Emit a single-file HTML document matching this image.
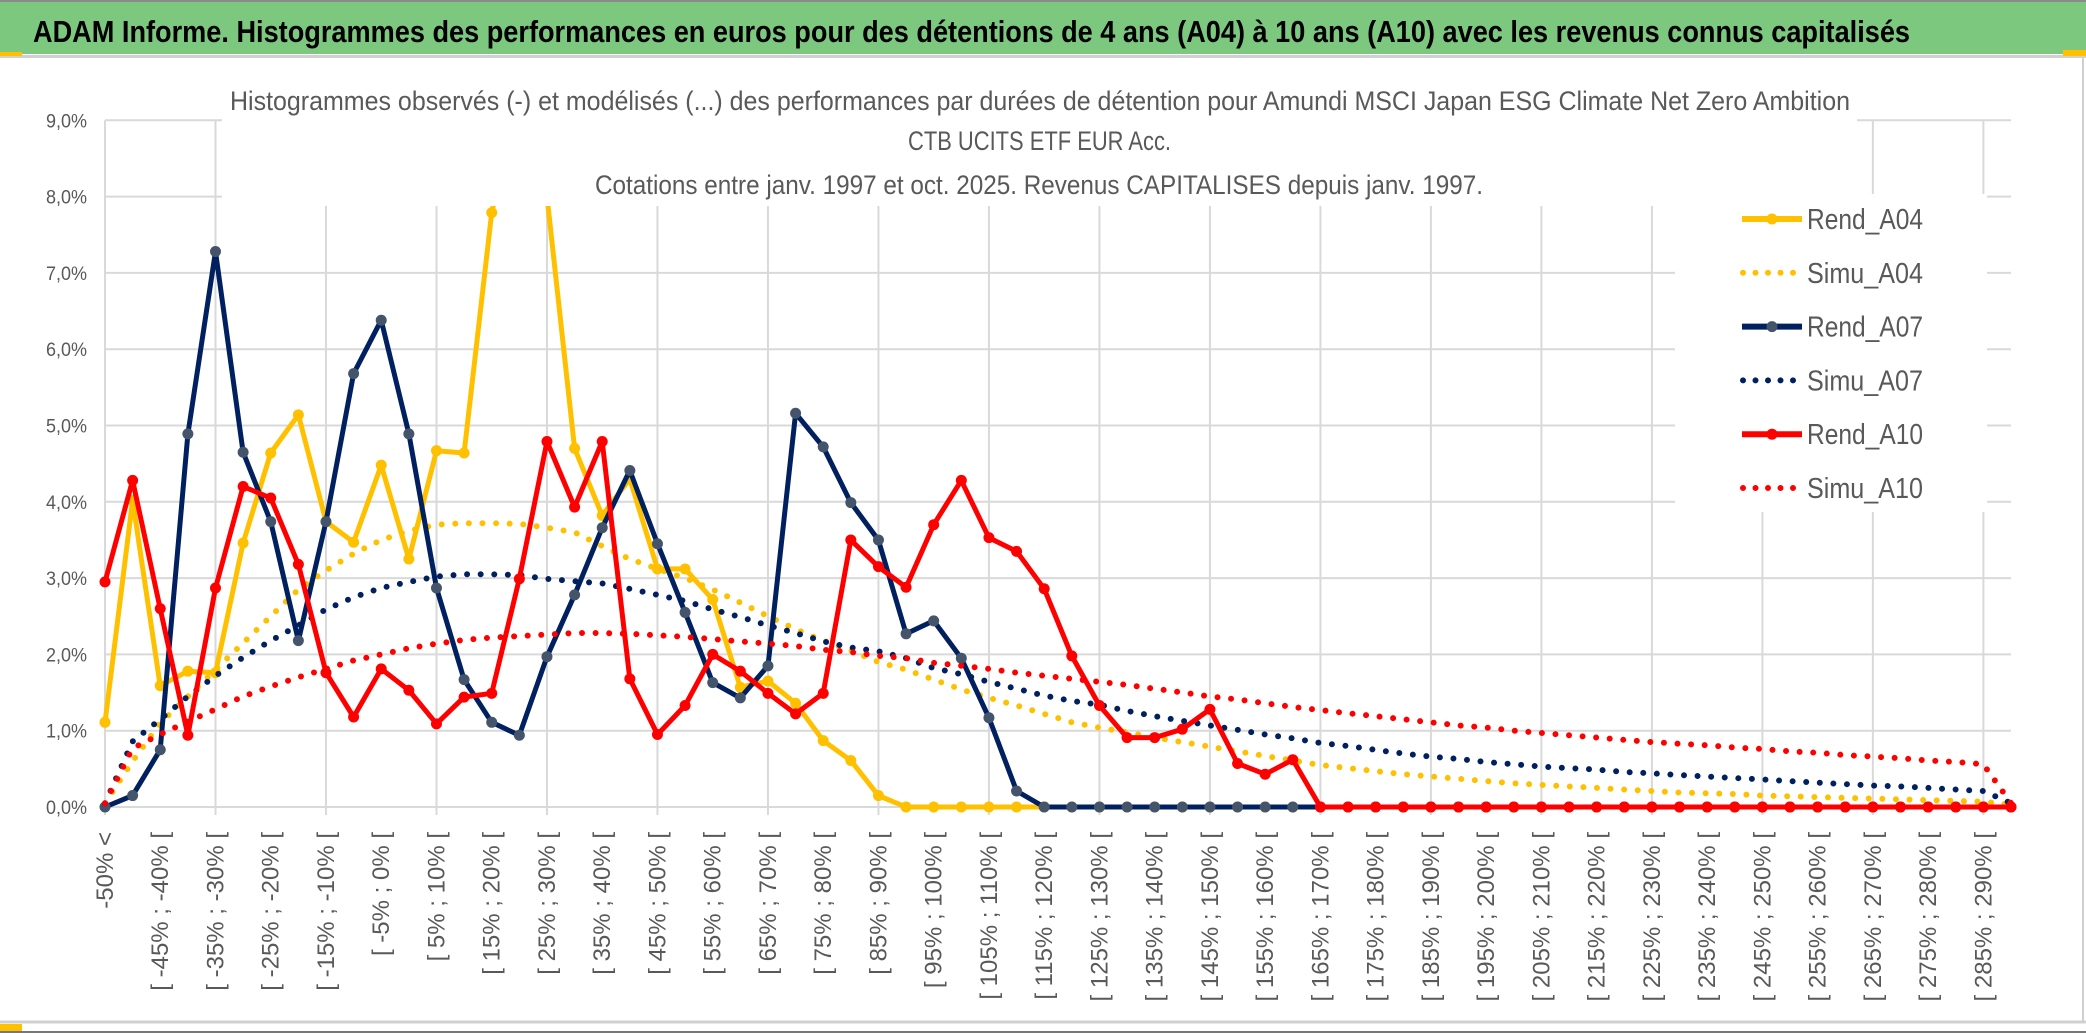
<!DOCTYPE html>
<html><head><meta charset="utf-8"><style>
html,body{margin:0;padding:0;background:#fff;}
svg{display:block;font-family:"Liberation Sans",sans-serif;}
</style></head><body>
<svg id="chart" width="2086" height="1033" viewBox="0 0 2086 1033">
  <rect x="0" y="0" width="2086" height="1033" fill="#fff"/>
  <rect x="0" y="0" width="2086" height="54" fill="#7DC87F"/>
  <line x1="0" y1="1" x2="2086" y2="1" stroke="#8a8a8a" stroke-width="2"/>
  <text x="33" y="42" font-size="31" font-weight="bold" fill="#000" textLength="1877" lengthAdjust="spacingAndGlyphs">ADAM Informe. Histogrammes des performances en euros pour des détentions de 4 ans (A04) à 10 ans (A10) avec les revenus connus capitalisés</text>
  <line x1="0" y1="56.5" x2="2086" y2="56.5" stroke="#d0d0d0" stroke-width="3"/>
  <rect x="0" y="52" width="22" height="4" fill="#FFC000"/>
  <rect x="2063" y="50" width="23" height="6" fill="#FFC000"/>
  <line x1="2083" y1="56" x2="2083" y2="1022" stroke="#d0d0d0" stroke-width="2"/>
  <line x1="0" y1="1022" x2="2086" y2="1022" stroke="#d0d0d0" stroke-width="3"/>
  <rect x="0" y="1024" width="22" height="7" fill="#FFC000"/>
  <line x1="0" y1="1032" x2="2086" y2="1032" stroke="#777" stroke-width="2"/>
  <g id="grid"></g>
  <g id="series"></g>
  <rect x="222" y="60" width="1635" height="146" fill="#fff"/>
  <rect x="1675" y="194" width="312" height="318" fill="#fff"/>
  <g fill="#595959" font-size="27">
    <text x="230" y="110" textLength="1620" lengthAdjust="spacingAndGlyphs">Histogrammes observés (-) et modélisés (...) des performances par durées de détention pour Amundi MSCI Japan ESG Climate Net Zero Ambition</text>
    <text x="908" y="150" textLength="263" lengthAdjust="spacingAndGlyphs">CTB UCITS ETF EUR Acc.</text>
    <text x="595" y="194" textLength="888" lengthAdjust="spacingAndGlyphs">Cotations entre janv. 1997 et oct. 2025. Revenus CAPITALISES depuis janv. 1997.</text>
  </g>
  <g id="yaxis"></g>
  <g id="xaxis"></g>
  <g id="legend"></g>
</svg>
<script>
const yTicks = [0,1,2,3,4,5,6,7,8,9];
const yTickLabels = ["0,0%","1,0%","2,0%","3,0%","4,0%","5,0%","6,0%","7,0%","8,0%","9,0%"];
const binStarts = [];
for (let b = -50; b <= 290; b += 5) binStarts.push(b);
const categories = ["-50% <"].concat(binStarts.map(b => "[ " + b + "% ; " + (b + 5) + "% ["));

const rendA04 = [1.11,4.02,1.59,1.78,1.76,3.46,4.64,5.14,3.74,3.47,
  4.48,3.25,4.67,4.64,7.79,9.4,8.0,4.70,3.82,4.30,
  3.12,3.12,2.72,1.57,1.65,1.36,0.87,0.61,0.15,0,
  0,0,0,0,0,0,0,0,0,0, 0,0,0,0,0,0,0,0,0,0,
  0,0,0,0,0,0,0,0,0,0, 0,0,0,0,0,0,0,0,0,0];
const simuA04 = [0.05,0.6,1.1,1.45,1.8,2.15,2.5,2.85,3.1,3.32,
  3.5,3.62,3.7,3.72,3.72,3.71,3.66,3.6,3.42,3.25,
  3.12,3.0,2.85,2.68,2.5,2.33,2.18,2.05,1.9,1.8,
  1.67,1.54,1.43,1.33,1.22,1.11,1.04,0.98,0.91,0.85,
  0.79,0.73,0.67,0.61,0.55,0.51,0.47,0.43,0.40,0.37,
  0.34,0.31,0.29,0.27,0.25,0.23,0.21,0.19,0.18,0.17,
  0.15,0.14,0.13,0.12,0.11,0.10,0.09,0.08,0.07,0.03];
const rendA07 = [0,0.15,0.75,4.89,7.28,4.65,3.74,2.18,3.74,5.68,
  6.38,4.89,2.87,1.67,1.11,0.94,1.97,2.78,3.66,4.41,
  3.45,2.55,1.63,1.43,1.85,5.16,4.72,3.99,3.50,2.27,
  2.44,1.95,1.17,0.21,0,0,0,0,0,0,
  0,0,0,0,0,0,0,0,0,0, 0,0,0,0,0,0,0,0,0,0, 0,0,0,0,0,0,0,0,0,0];
const simuA07 = [0.05,0.86,1.15,1.45,1.72,1.96,2.18,2.38,2.59,2.75,
  2.87,2.95,3.02,3.05,3.05,3.04,2.99,2.96,2.93,2.86,
  2.78,2.70,2.59,2.49,2.38,2.28,2.17,2.09,2.04,1.95,
  1.82,1.74,1.64,1.55,1.46,1.39,1.34,1.26,1.19,1.13,
  1.07,1.01,0.95,0.90,0.84,0.80,0.75,0.70,0.66,0.63,
  0.59,0.56,0.53,0.51,0.49,0.46,0.44,0.42,0.40,0.38,
  0.36,0.34,0.32,0.30,0.28,0.27,0.25,0.23,0.21,0.05];
const rendA10 = [2.95,4.28,2.60,0.94,2.87,4.20,4.05,3.18,1.76,1.18,
  1.81,1.53,1.09,1.44,1.49,2.99,4.79,3.93,4.79,1.68,
  0.95,1.33,2.0,1.78,1.49,1.22,1.49,3.50,3.15,2.88,
  3.70,4.28,3.53,3.35,2.86,1.98,1.33,0.91,0.91,1.02,
  1.28,0.57,0.43,0.62,0,0,0,0,0,0,
  0,0,0,0,0,0,0,0,0,0, 0,0,0,0,0,0,0,0,0,0];
const simuA10 = [0.05,0.77,0.95,1.12,1.28,1.45,1.58,1.70,1.81,1.92,
  2.0,2.08,2.14,2.19,2.22,2.24,2.26,2.28,2.28,2.27,
  2.25,2.23,2.20,2.17,2.14,2.11,2.06,2.03,1.98,1.95,
  1.89,1.85,1.81,1.76,1.72,1.68,1.64,1.60,1.55,1.50,
  1.45,1.41,1.36,1.31,1.27,1.23,1.19,1.15,1.11,1.07,
  1.04,1.00,0.97,0.94,0.91,0.88,0.85,0.83,0.81,0.78,
  0.76,0.73,0.71,0.68,0.66,0.64,0.61,0.59,0.56,0.05];
const seriesNames = ["Rend_A04","Simu_A04","Rend_A07","Simu_A07","Rend_A10","Simu_A10"];

const NS = "http://www.w3.org/2000/svg";
const X0 = 105, X1 = 2011, Y0 = 807, PXPCT = 76.3;
const step = (X1 - X0) / (categories.length - 1);
function xPos(i){ return X0 + i * step; }
function yPos(v){ return Y0 - v * PXPCT; }
function mk(tag, attrs, parent){ const e = document.createElementNS(NS, tag); for (const k in attrs) e.setAttribute(k, attrs[k]); parent.appendChild(e); return e; }

const grid = document.getElementById("grid");
yTicks.forEach((t, k) => {
  const l = mk("line", {x1: X0, x2: X1, y1: yPos(t), y2: yPos(t), stroke: "#d9d9d9", "stroke-width": 2}, grid);
  
  
  const tx = mk("text", {x: 87, y: yPos(t) + 7, "text-anchor": "end", "font-size": 19, fill: "#595959", textLength: 41, lengthAdjust: "spacingAndGlyphs"}, document.getElementById("yaxis"));
  tx.textContent = yTickLabels[k];
  
  
});
for (let i = 0; i < categories.length; i += 4) {
  const l = mk("line", {x1: xPos(i), x2: xPos(i), y1: yPos(9), y2: Y0 + 8, stroke: "#d9d9d9", "stroke-width": 2}, grid);
  
  
}
const xaxis = document.getElementById("xaxis");
for (let i = 0; i < categories.length; i += 2) {
  const t = mk("text", {x: 0, y: 0, "text-anchor": "end", "font-size": 24, fill: "#595959",
    transform: "translate(" + (xPos(i) + 8) + ",832) rotate(-90)"}, xaxis);
  t.textContent = categories[i];
  
  
}

const seriesLayer = document.getElementById("series");
function pts(arr){ return arr.map((v, i) => xPos(i).toFixed(1) + "," + yPos(v).toFixed(1)).join(" "); }
function drawSim(arr, color, name){
  const p = mk("polyline", {points: pts(arr), fill: "none", stroke: color, "stroke-width": 6, "stroke-linecap": "round", "stroke-dasharray": "0 13.6"}, seriesLayer);
  
  
}
function drawRend(arr, color, mcolor, name){
  const g = mk("g", {}, seriesLayer);
  
  
  mk("polyline", {points: pts(arr), fill: "none", stroke: color, "stroke-width": 5, "stroke-linejoin": "round"}, g);
  arr.forEach((v, i) => {
    const c = mk("circle", {cx: xPos(i), cy: yPos(v), r: 5.5, fill: mcolor}, g);
    
    
  });
}
drawRend(rendA04, "#FFC000", "#FFC000", "rend-a04-line");
drawSim(simuA04, "#FFC000", "simu-a04-line");
drawRend(rendA07, "#002060", "#44546A", "rend-a07-line");
drawSim(simuA07, "#002060", "simu-a07-line");
drawRend(rendA10, "#FF0000", "#FF0000", "rend-a10-line");
drawSim(simuA10, "#FF0000", "simu-a10-line");

const legend = document.getElementById("legend");
const legColors = ["#FFC000","#FFC000","#002060","#002060","#FF0000","#FF0000"];
const legMarker = ["#FFC000",null,"#44546A",null,"#FF0000",null];
seriesNames.forEach((n, k) => {
  const y = 219 + k * 53.8;
  const g = mk("g", {}, legend);
  
  
  if (legMarker[k]) {
    mk("line", {x1: 1742, x2: 1802, y1: y, y2: y, stroke: legColors[k], "stroke-width": 6}, g);
    mk("circle", {cx: 1772, cy: y, r: 5.5, fill: legMarker[k]}, g);
  } else {
    mk("line", {x1: 1743, x2: 1802, y1: y, y2: y, stroke: legColors[k], "stroke-width": 6, "stroke-linecap": "round", "stroke-dasharray": "0 12.5"}, g);
  }
  const t = mk("text", {x: 1807, y: y + 10, "font-size": 29, fill: "#595959", textLength: 116, lengthAdjust: "spacingAndGlyphs"}, g);
  t.textContent = n;
});
</script>
</body></html>
